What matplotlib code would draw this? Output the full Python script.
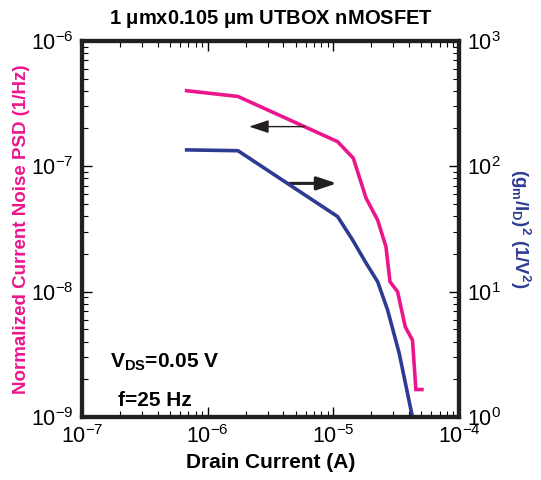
"""
Ruido normalizado de corriente y (gm/ID)^2 frente a la corriente de drenador
"""
import matplotlib
matplotlib.use("Agg")
import matplotlib.pyplot as plt

plt.rcParams['font.family'] = ['Liberation Sans', 'DejaVu Sans']
plt.rcParams['mathtext.fontset'] = 'custom'
plt.rcParams['mathtext.rm'] = 'Liberation Sans'
plt.rcParams['mathtext.bf'] = 'Liberation Sans:bold'
plt.rcParams['mathtext.it'] = 'Liberation Sans:italic'
plt.rcParams['axes.unicode_minus'] = False

ROSA = '#ec168c'
AZUL = '#2e3b93'

# SI/ID^2 (eje izquierdo)
id_ruido = [6.8e-7, 1.74e-6, 1.08e-5, 1.44e-5, 1.82e-5, 2.25e-5, 2.62e-5,
            2.82e-5, 3.24e-5, 3.73e-5, 4.26e-5, 4.53e-5, 5.06e-5]
psd_norm = [4.0e-7, 3.6e-7, 1.57e-7, 1.16e-7, 5.56e-8, 3.72e-8, 2.28e-8,
            1.2e-8, 1.0e-8, 5.25e-9, 4.1e-9, 1.66e-9, 1.66e-9]

# (gm/ID)^2 (eje derecho)
id_gm = [6.8e-7, 1.74e-6, 1.08e-5, 1.42e-5, 1.82e-5, 2.25e-5, 2.7e-5,
         3.34e-5, 4.22e-5]
gm_id2 = [135, 133, 39.7, 25.9, 16.9, 12.0, 7.14, 3.22, 1.04]

fig = plt.figure(figsize=(5.41, 4.8), dpi=100)
ax = fig.add_axes([0.1516, 0.131, 0.697, 0.784])
ax2 = ax.twinx()

ax.loglog(id_ruido, psd_norm, color=ROSA, linewidth=2.6, solid_joinstyle='miter')
ax2.loglog(id_gm, gm_id2, color=AZUL, linewidth=2.6)

ax.set_xlim(1e-7, 1e-4)
ax.set_ylim(1e-9, 1e-6)
ax2.set_ylim(1, 1000)

for a in (ax, ax2):
    for s in a.spines.values():
        s.set_linewidth(3)
        s.set_color('#231f20')
ax.tick_params(which='both', direction='in', top=True, labelsize=15.5, pad=6)
ax.tick_params(which='major', length=7, width=1)
ax.tick_params(which='minor', length=4, width=0.8)
ax2.tick_params(which='both', direction='in', labelsize=15.5, pad=6)
ax2.tick_params(which='major', length=7, width=1)
ax2.tick_params(which='minor', length=4, width=0.8)

ax.set_xlabel("Drain Current (A)", fontsize=15, fontweight='bold', labelpad=3)
ax.set_ylabel("Normalized Current Noise PSD (1/Hz)", fontsize=13.5,
              fontweight='bold', color=ROSA, labelpad=1)
ax2.set_ylabel(r"$\mathbf{(g_m/I_D)^2\ (1/V^2)}$", fontsize=13.5, color=AZUL,
               rotation=270, labelpad=22)
ax.set_title(r"1 $\mathbf{\mu}$mx0.105 $\mathbf{\mu}$m UTBOX nMOSFET",
             fontsize=14.5, fontweight='bold', pad=12)

# flechas que indican el eje de cada curva
ax.annotate("", xy=(2.03e-6, 2.07e-7), xytext=(6.2e-6, 2.07e-7),
            arrowprops=dict(arrowstyle="-|>,head_length=1.2,head_width=0.4",
                            color='#231f20', lw=1.0))
ax.annotate("", xy=(1.12e-5, 7.3e-8), xytext=(4.2e-6, 7.3e-8),
            arrowprops=dict(arrowstyle="-|>,head_length=1.2,head_width=0.4",
                            color='#231f20', lw=2.2))

ax.text(0.075, 0.13, r"$\mathbf{V_{DS}}$=0.05 V", transform=ax.transAxes,
        fontsize=15, fontweight='bold')
ax.text(0.095, 0.03, "f=25 Hz", transform=ax.transAxes,
        fontsize=15, fontweight='bold')

fig.savefig("out.png", dpi=100)
